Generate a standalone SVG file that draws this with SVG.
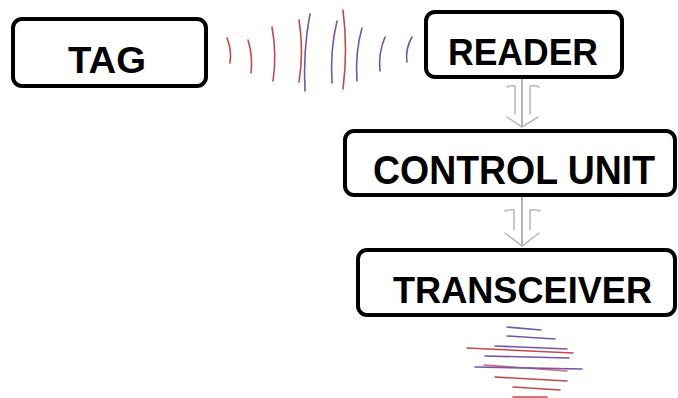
<svg xmlns="http://www.w3.org/2000/svg" width="678" height="398" viewBox="0 0 678 398">
<style>
.box{fill:#fff;stroke:#000;stroke-width:4}
.lbl{font-family:"Liberation Sans",Arial,sans-serif;font-weight:bold;fill:#000;text-anchor:middle}
.red{fill:none;stroke:#c8474a;stroke-width:1.6;stroke-linecap:round}
.pur{fill:none;stroke:#7656a8;stroke-width:1.6;stroke-linecap:round}
.conn{fill:none;stroke:#b8b8b8;stroke-width:1.5;stroke-linecap:round}
.connc{fill:none;stroke:#9a9a9a;stroke-width:1.5}
</style>
<rect width="678" height="398" fill="#fff"/>
<g id="waves-top">
<path class="red" d="M227 38 Q232 50 230 63"/>
<path class="red" d="M248 40 Q253 56 251 73"/>
<path class="red" d="M272 27 Q277 54 273 81"/>
<path class="red" d="M299 20 Q304 51 299 82"/>
<path class="pur" d="M310 14 Q303 50 305 91"/>
<path class="pur" d="M337 21 Q330 50 332 83"/>
<path class="red" d="M343 10 Q348 50 343 89"/>
<path class="pur" d="M362 28 Q355 52 357 81"/>
<path class="pur" d="M385 37 Q378 54 380 71"/>
<path class="pur" d="M412 37 Q405 49 407 62"/>
</g>
<g id="waves-bottom">
<path class="pur" d="M507 327 L541 330"/>
<path class="pur" d="M507 336 L555 339"/>
<path class="pur" d="M495 346 L567 349"/>
<path class="red" d="M467 348 L573 353"/>
<path class="pur" d="M485 356 L569 358"/>
<path class="red" d="M484 365 L567 371" opacity="0.8"/>
<path class="pur" d="M475 367 L582 369"/>
<path class="red" d="M495 377 L567 381"/>
<path class="red" d="M513 387 L560 390"/>
<path class="red" d="M513 397 L547 397"/>
</g>
<g id="connectors">
<g id="arrow-reader-control">
<path class="connc" d="M522 77 L522 126"/>
<path class="conn" d="M507 87 Q511 85 515 86 L515 114 M539 87 Q535 85 530 86 L530 114"/>
<path class="conn" d="M507 117 L522 127 L538 117"/>
</g>
<g id="arrow-control-transceiver">
<path class="connc" d="M522 195 L522 246"/>
<path class="conn" d="M505 211 Q509 209 514 210 L514 230 M540 211 Q535 209 530 210 L530 230"/>
<path class="conn" d="M505 233 L522 246 L539 233"/>
</g>
</g>
<g id="tag">
<rect class="box" x="13" y="19" width="193" height="67" rx="9"/>
<text class="lbl" x="107" y="73" font-size="37" textLength="78" lengthAdjust="spacingAndGlyphs">TAG</text>
</g>
<g id="reader">
<rect class="box" x="426" y="12" width="196" height="65" rx="9"/>
<text class="lbl" x="523" y="65" font-size="36" textLength="150" lengthAdjust="spacingAndGlyphs">READER</text>
</g>
<g id="control-unit">
<rect class="box" x="345" y="131" width="330" height="64" rx="9"/>
<text class="lbl" x="514" y="184" font-size="40" textLength="282" lengthAdjust="spacingAndGlyphs">CONTROL UNIT</text>
</g>
<g id="transceiver">
<rect class="box" x="358" y="250" width="317" height="65" rx="9"/>
<text class="lbl" x="522.5" y="303" font-size="37" textLength="259" lengthAdjust="spacingAndGlyphs">TRANSCEIVER</text>
</g>
</svg>
